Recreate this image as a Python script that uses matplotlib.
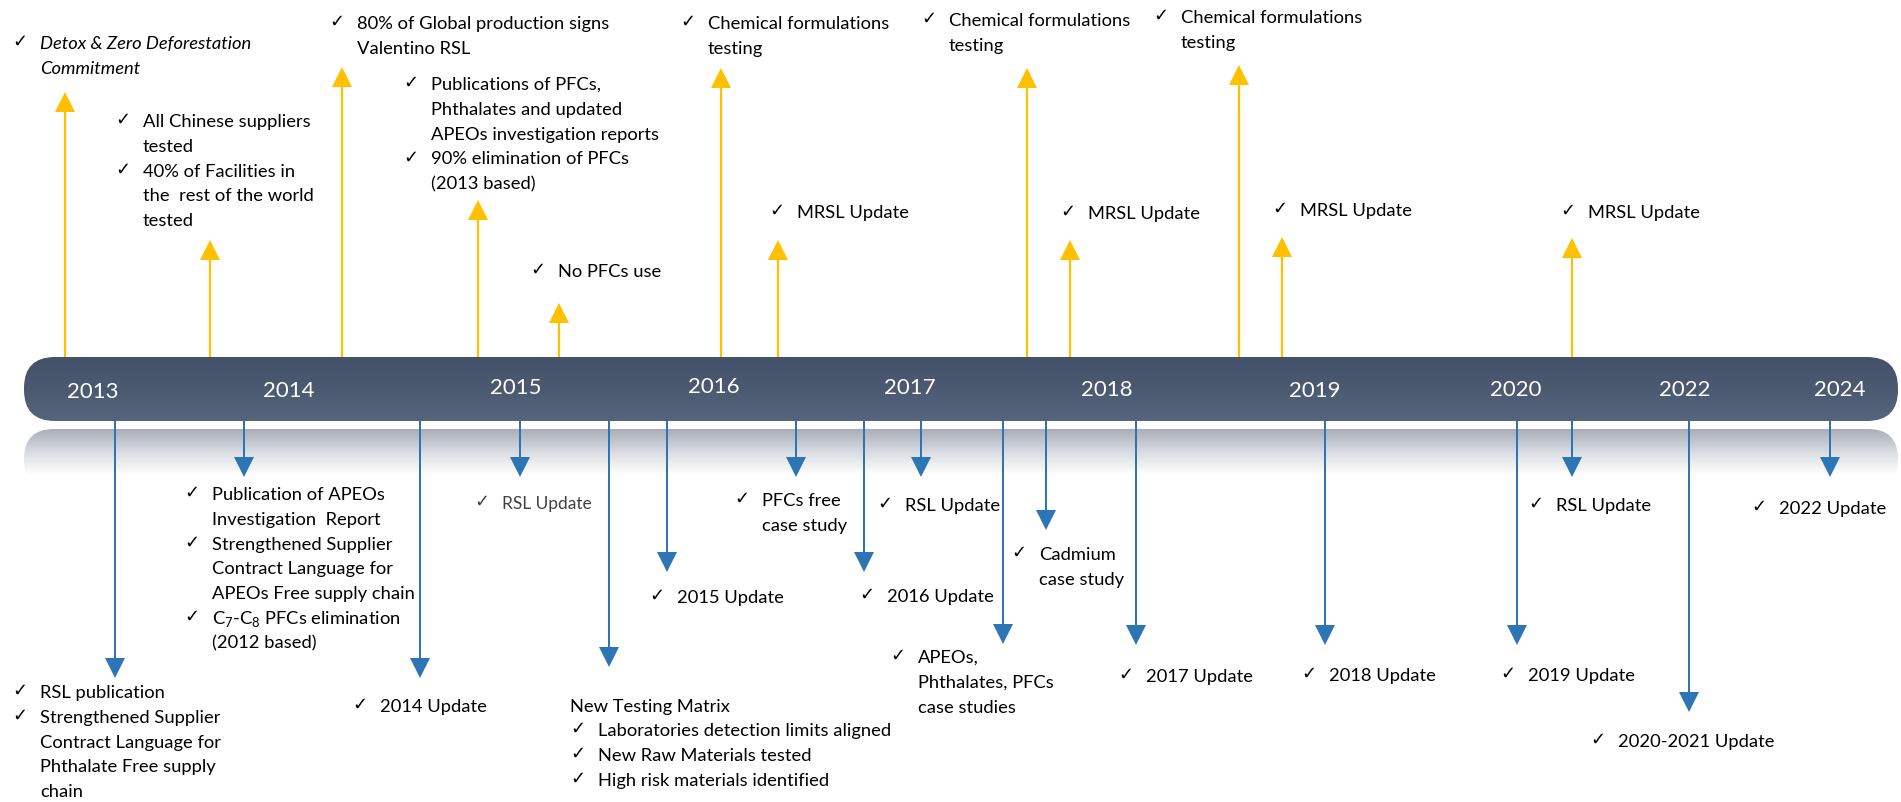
import numpy as np
import matplotlib.pyplot as plt
from matplotlib.patches import FancyBboxPatch
from matplotlib.colors import LinearSegmentedColormap

# timeline years shown on the bar
years = ['2013', '2014', '2015', '2016', '2017', '2018', '2019', '2020', '2022', '2024']
year_x = [93, 289, 516, 714, 910, 1107, 1315, 1516, 1685, 1840]
year_y = [392, 391, 388, 387, 388, 390, 391, 390, 390, 390]

# milestones above the bar (yellow arrows)
up_x = [65, 210, 342, 478, 559, 721, 778, 1027, 1070, 1239, 1282, 1572]
up_tip = [92, 240, 67, 200, 303, 68, 240, 68, 240, 65, 237, 238]
up_lab = [(13, 44), (116, 122), (330, 24), (404, 85), (531, 272), (681, 24),
          (770, 213), (922, 21), (1061, 214), (1154, 18), (1273, 211), (1561, 213)]
chem = [["Chemical formulations", "testing"]]
mrsl = [["MRSL Update"]]
up_text = [
    [["Detox & Zero Deforestation", "Commitment"]],
    [["All Chinese suppliers", "tested"], ["40% of Facilities in", "the  rest of the world", "tested"]],
    [["80% of Global production signs", "Valentino RSL"]],
    [["Publications of PFCs,", "Phthalates and updated", "APEOs investigation reports"],
     ["90% elimination of PFCs", "(2013 based)"]],
    [["No PFCs use"]],
    chem, mrsl, chem, mrsl, chem, mrsl, mrsl,
]

# milestones below the bar (blue arrows)
down_x = [115, 244, 420, 520, 609, 667, 796, 864, 921, 1003, 1046, 1136, 1325, 1517, 1572, 1689, 1830]
down_tip = [678, 477, 678, 477, 667, 572, 477, 572, 477, 644, 530, 645, 645, 645, 477, 712, 477]
down_lab = [(13, 693), (185, 495), (353, 707), (475, 504), (571, 731), (650, 598), (735, 501),
            (860, 597), (878, 506), (891, 658), (1012, 555), (1119, 677), (1302, 676),
            (1501, 676), (1529, 506), (1591, 742), (1752, 509)]
down_text = [
    [["RSL publication"], ["Strengthened Supplier", "Contract Language for", "Phthalate Free supply", "chain"]],
    [["Publication of APEOs", "Investigation  Report"],
     ["Strengthened Supplier", "Contract Language for", "APEOs Free supply chain"],
     ["C$_7$-C$_8$ PFCs elimination", "(2012 based)"]],
    [["2014 Update"]],
    [["RSL Update"]],
    [["Laboratories detection limits aligned"], ["New Raw Materials tested"], ["High risk materials identified"]],
    [["2015 Update"]],
    [["PFCs free", "case study"]],
    [["2016 Update"]],
    [["RSL Update"]],
    [["APEOs,", "Phthalates, PFCs", "case studies"]],
    [["Cadmium", "case study"]],
    [["2017 Update"]],
    [["2018 Update"]],
    [["2019 Update"]],
    [["RSL Update"]],
    [["2020-2021 Update"]],
    [["2022 Update"]],
]

YELLOW = '#FFC000'
BLUE = '#2E75B6'
FONT = ['Lato', 'DejaVu Sans']
plt.rcParams['mathtext.fontset'] = 'custom'
plt.rcParams['mathtext.rm'] = 'Lato'

fig = plt.figure(figsize=(19.01, 8.02), dpi=100)
ax = fig.add_axes([0, 0, 1, 1])

bar_l, bar_r, bar_t, bar_b = 24, 1898, 357, 421

# reflection under the bar
refl = FancyBboxPatch((bar_l, 429), bar_r - bar_l, 60, boxstyle='round,pad=0,rounding_size=30',
                      fc='none', ec='none')
ax.add_patch(refl)
rcmap = LinearSegmentedColormap.from_list('r', ['#a8aeb8', '#d9dce1', '#ffffff'])
im = ax.imshow(np.linspace(0, 1, 256).reshape(-1, 1), extent=[bar_l, bar_r, 475, 429],
               origin='upper', aspect='auto', cmap=rcmap, zorder=1)
im.set_clip_path(refl)

# the bar itself
bar = FancyBboxPatch((bar_l, bar_t), bar_r - bar_l, bar_b - bar_t,
                     boxstyle='round,pad=0,rounding_size=31', fc='none', ec='none')
ax.add_patch(bar)
bcmap = LinearSegmentedColormap.from_list('b', ['#43516a', '#4c5a71', '#56657d'])
im2 = ax.imshow(np.linspace(0, 1, 256).reshape(-1, 1), extent=[bar_l, bar_r, bar_b, bar_t],
                origin='upper', aspect='auto', cmap=bcmap, zorder=2)
im2.set_clip_path(bar)

for yr, x, y in zip(years, year_x, year_y):
    ax.text(x, y, yr, color='white', fontsize=16, family=FONT, ha='center', va='center', zorder=5)


def bullets(x, y, items, size=13.2, color='black', style='normal', step=24.8):
    for item in items:
        for i, line in enumerate(item):
            if i == 0:
                ax.text(x - 1, y - 2, '\u2713', fontsize=13, family='DejaVu Sans', color=color,
                        ha='left', va='center', zorder=5)
            ax.text(x + 27, y, line, fontsize=size, family=FONT, color=color, style=style,
                    ha='left', va='center', zorder=5)
            y += step


for x, tip, (lx, ly), items in zip(up_x, up_tip, up_lab, up_text):
    ax.arrow(x, bar_t, 0, tip - bar_t, width=2.2, head_width=20, head_length=20,
             length_includes_head=True, fc=YELLOW, ec='none', zorder=3)
    bullets(lx, ly, items, style='italic' if 'Detox' in items[0][0] else 'normal')

for x, tip, (lx, ly), items in zip(down_x, down_tip, down_lab, down_text):
    ax.arrow(x, bar_b, 0, tip - bar_b, width=2.0, head_width=20, head_length=20,
             length_includes_head=True, fc=BLUE, ec='none', zorder=3)
    if items[0][0] == 'RSL Update' and x < 600:
        bullets(lx, ly, items, size=12.5, color='#404040')
    else:
        bullets(lx, ly, items)

ax.text(570, 707, 'New Testing Matrix', fontsize=13.2, family=FONT, ha='left', va='center', zorder=5)

ax.set_xlim(0, 1901)
ax.set_ylim(802, 0)
ax.axis('off')
fig.savefig('out.png', dpi=100, facecolor='white')
